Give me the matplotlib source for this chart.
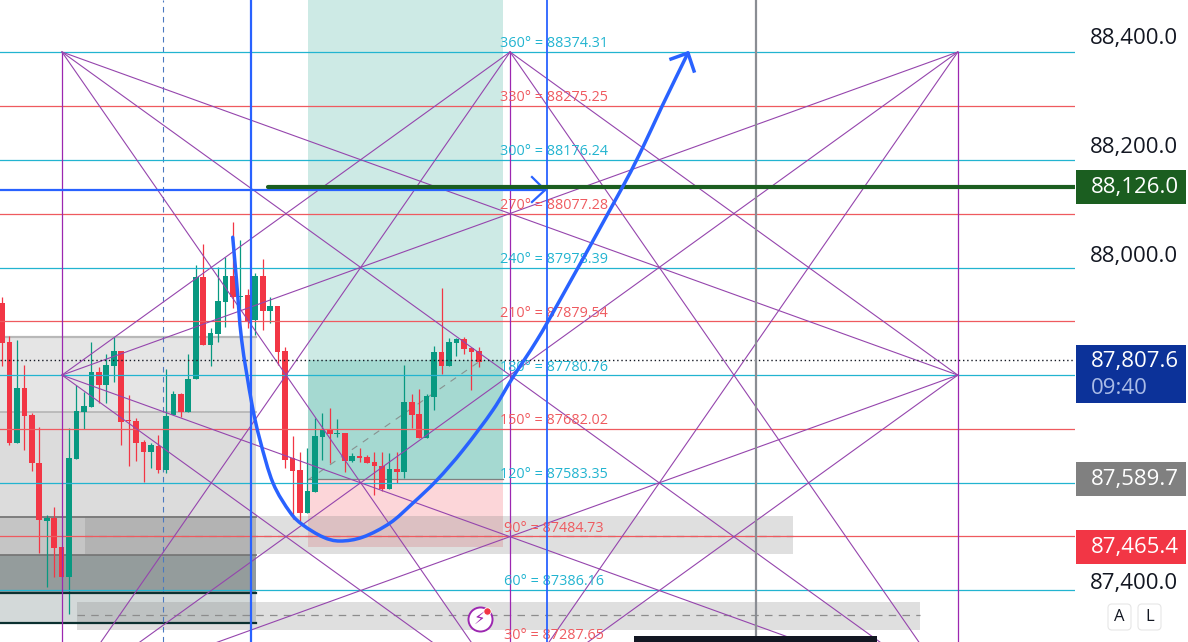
import matplotlib
matplotlib.use("Agg")
import matplotlib.pyplot as plt
from matplotlib.patches import Rectangle, FancyBboxPatch, PathPatch
from matplotlib.path import Path
from matplotlib.transforms import IdentityTransform, ScaledTranslation

plt.rcParams["font.family"] = ["Open Sans", "DejaVu Sans"]

# bar index, one candle per entry
opens = [87913, 87842, 87656, 87757, 87707, 87619, 87513, 87518, 87465, 87410, 87627, 87713, 87722,
         87786, 87763, 87798, 87825, 87698, 87696, 87658, 87639, 87650, 87606, 87707, 87746, 87713,
         87774, 87961, 87836, 87856, 87915, 87963, 87924, 87928, 87882, 87963, 87898, 87908, 87825,
         87628, 87606, 87527, 87566, 87667, 87680, 87673, 87674, 87623, 87632, 87630, 87621, 87614,
         87571, 87608, 87603, 87731, 87709, 87665, 87741, 87823, 87798, 87840, 87847, 87831, 87825]
highs = [87924, 87853, 87845, 87799, 87711, 87685, 87524, 87538, 87465, 87684, 87763, 87750, 87842,
         87796, 87820, 87851, 87825, 87744, 87702, 87662, 87656, 87671, 87792, 87752, 87748, 87820,
         87983, 88022, 87867, 87979, 87998, 88062, 88029, 87939, 87968, 87994, 87924, 87908, 87832,
         87669, 87639, 87647, 87702, 87711, 87720, 87700, 87674, 87638, 87647, 87634, 87639, 87639,
         87638, 87639, 87799, 87746, 87755, 87746, 87834, 87941, 87849, 87849, 87851, 87832, 87832]
lows = [87798, 87652, 87656, 87643, 87605, 87454, 87391, 87410, 87410, 87342, 87627, 87682, 87722,
        87730, 87730, 87768, 87652, 87614, 87623, 87584, 87610, 87601, 87601, 87707, 87704, 87713,
        87774, 87836, 87798, 87842, 87869, 87904, 87900, 87867, 87854, 87864, 87876, 87799, 87610,
        87516, 87511, 87527, 87566, 87625, 87619, 87667, 87603, 87621, 87621, 87619, 87560, 87568,
        87571, 87583, 87592, 87684, 87665, 87665, 87717, 87783, 87798, 87816, 87820, 87753, 87796]
closes = [87840, 87656, 87757, 87706, 87619, 87515, 87518, 87463, 87410, 87628, 87715, 87724, 87786,
          87763, 87799, 87825, 87695, 87696, 87656, 87639, 87652, 87606, 87706, 87746, 87713, 87774,
          87961, 87836, 87858, 87917, 87963, 87924, 87926, 87880, 87963, 87898, 87908, 87823, 87625,
          87605, 87527, 87568, 87669, 87680, 87673, 87674, 87623, 87632, 87628, 87619, 87614, 87571,
          87608, 87603, 87731, 87707, 87665, 87742, 87823, 87798, 87842, 87847, 87829, 87823, 87805]

gann_angles = [360, 330, 300, 270, 240, 210, 180, 150, 120, 90, 60, 30]
gann_prices = [88374.31, 88275.25, 88176.24, 88077.28, 87978.39, 87879.54, 87780.76, 87682.02,
               87583.35, 87484.73, 87386.16, 87287.65]
gann_x = [8.05, 68.2, 128.3]
gann_y = [88374.31, 87780.76, 87187.2]

curve_x = [30.97, 31.48, 32.17, 33.52, 34.63, 36.38, 38.66, 40.40, 43.09, 45.37, 48.46, 52.08, 55.17,
           58.39, 61.88, 65.9, 68.59, 71.81, 74.9, 83.22, 86.04, 88.55, 92.08]
curve_y = [88034, 87955, 87845, 87729.5, 87661.5, 87582.5, 87529, 87505.4, 87483.3, 87476, 87483.3,
           87509, 87545.8, 87588, 87643, 87716.6, 87777, 87845, 87918.7, 88124.4, 88199.8, 88273.2, 88372.5]
curve_head_x = [89.8, 92.08, 92.89]
curve_head_y = [88361.4, 88372.5, 88339.4]
arrow_head_x = [71.14, 72.9, 71.14]
arrow_head_y = [88144.6, 88120.8, 88098.7]

price_ticks = [88400, 88200, 88000, 87400]
price_tick_labels = ["88,400.0", "88,200.0", "88,000.0", "87,400.0"]
last_price = 87807.6
target_price = 88126.0
grey_price = 87589.7
red_price = 87465.4
blue_line = 88120.8

GREEN = "#089981"
RED = "#f23645"
BLUE = "#2962ff"
PURPLE = "#9c27b0"
TEAL = "#22b4d0"
LEVEL_RED = "#ef5a5f"

fig = plt.figure(figsize=(11.88, 6.42), dpi=100)
ax = fig.add_axes([0, 0, 1075 / 1188, 1])
ax.set_xlim(-0.268, 144.03)
ax.set_ylim(87290.5, 88469.8)
ax.axis("off")

# long position box
ax.add_patch(Rectangle((41.07, 87588), 26.18, 881.8, color=GREEN, alpha=0.2, lw=0, zorder=1))
ax.add_patch(Rectangle((41.07, 87588), 26.18, 219.6, color=GREEN, alpha=0.2, lw=0, zorder=1))
ax.add_patch(Rectangle((41.07, 87465), 26.18, 123, color=RED, alpha=0.2, lw=0, zorder=1))
ax.plot([41.07, 67.25], [87590, 87590], color="#808080", lw=0.9, zorder=2)
ax.plot([41.07, 64], [87588, 87805], color="#808080", lw=0.8, ls=(0, (6, 6)), alpha=0.8, zorder=2)

# grey zones on the left
ax.add_patch(Rectangle((-1, 87325), 35.1, 526, color="#000000", alpha=0.1, lw=0, zorder=1))
ax.add_patch(Rectangle((-1, 87382), 35.1, 331, color="#000000", alpha=0.04, lw=0, zorder=1))
ax.add_patch(Rectangle((-1, 87382), 35.1, 138, color="#000000", alpha=0.1, lw=0, zorder=1))
ax.add_patch(Rectangle((-1, 87382), 35.1, 68, color="#103030", alpha=0.27, lw=0, zorder=1))
ax.add_patch(Rectangle((-1, 87325), 35.1, 57, color="#005050", alpha=0.08, lw=0, zorder=1))
ax.plot([-1, 34.1], [87851, 87851], color="#b8b8b8", lw=1.6, zorder=2)
ax.plot([-1, 34.1], [87713, 87713], color="#b4b4b4", lw=1.2, zorder=2)
ax.plot([-1, 34.1], [87520, 87520], color="#777777", lw=1.3, zorder=2)
ax.plot([-1, 34.1], [87450, 87450], color="#777777", lw=1.3, zorder=2)
ax.plot([-1, 34.1], [87381, 87381], color="#0b3030", lw=1.6, zorder=5)
ax.plot([-1, 34.1], [87325, 87325], color="#0b3030", lw=1.6, zorder=2)

# grey zones reaching to the right
ax.add_patch(Rectangle((11.1, 87452), 95.1, 70, color="#808080", alpha=0.25, lw=0, zorder=1))
ax.add_patch(Rectangle((10.07, 87313), 113.1, 51, color="#808080", alpha=0.25, lw=0, zorder=1))
ax.plot([11.1, 106.2], [87485, 87485], color="#8c8c8c", lw=0.9, ls=(0, (6, 5)), zorder=2)
ax.plot([10.07, 123.2], [87340, 87340], color="#8c8c8c", lw=0.9, ls=(0, (6, 5)), zorder=2)

# candles
for i in range(len(opens)):
    col = GREEN if closes[i] >= opens[i] else RED
    ax.vlines(i, lows[i], highs[i], color=col, lw=0.9, zorder=3)
    ax.bar(i, abs(closes[i] - opens[i]), bottom=min(opens[i], closes[i]), width=0.76, color=col, lw=0, zorder=3)

# gann levels
for ang, price in zip(gann_angles, gann_prices):
    col = TEAL if ang % 60 == 0 else LEVEL_RED
    ax.axhline(price, color=col, lw=0.9, zorder=4)
    ax.annotate(f"{ang}° = {price:.2f}", (74.1, price), xytext=(0, 5.8), textcoords="offset points",
                ha="center", va="center", fontsize=10.4, color=col, annotation_clip=False, clip_on=True, zorder=6)

# gann square
gx0, gx1, gx2 = gann_x
gy0, gy1, gy2 = gann_y
for x in gann_x:
    ax.plot([x, x], [gy0, gy2], color=PURPLE, lw=0.9, zorder=5)
fan = [
    (gx0, gy0, gx2, gy2), (gx0, gy0, gx2, gy1), (gx0, gy0, gx1, gy2),
    (gx2, gy0, gx0, gy2), (gx2, gy0, gx0, gy1), (gx2, gy0, gx1, gy2),
    (gx0, gy2, gx2, gy1), (gx0, gy2, gx1, gy0),
    (gx2, gy2, gx0, gy1), (gx2, gy2, gx1, gy0),
    (gx0, gy1, gx1, gy0), (gx2, gy1, gx1, gy0),
    (gx0, gy1, gx1, gy2), (gx2, gy1, gx1, gy2),
]
for a, b, c, d in fan:
    ax.plot([a, c], [b, d], color="#9545ad", lw=0.8, zorder=5)

ax.axhline(last_price, color="#131722", lw=1, ls=(0, (1, 2)), zorder=5)

# verticals
ax.axvline(33.4, color=BLUE, lw=1.6, zorder=6)
ax.axvline(73.15, color=BLUE, lw=1.3, zorder=6)
ax.axvline(101.2, color="#8a8d93", lw=1.6, zorder=6)
ax.axvline(21.55, color="#4a78c0", lw=0.8, ls=(0, (5, 4)), zorder=2)

# horizontal arrow and target line
ax.plot([-1, 72.9], [blue_line, blue_line], color=BLUE, lw=1.6, zorder=6)
ax.plot(arrow_head_x, arrow_head_y, color=BLUE, lw=1.6, zorder=6)
ax.plot([35.7, 146], [target_price, target_price], color="#1b5e20", lw=3, solid_capstyle="round", zorder=7)

# hand drawn curve, rounded between the points
verts = [(curve_x[0], curve_y[0])]
codes = [Path.MOVETO]
n = len(curve_x)
for i in range(n - 1):
    a, d = max(i - 1, 0), min(i + 2, n - 1)
    verts.append((curve_x[i] + (curve_x[i + 1] - curve_x[a]) / 6, curve_y[i] + (curve_y[i + 1] - curve_y[a]) / 6))
    verts.append((curve_x[i + 1] - (curve_x[d] - curve_x[i]) / 6, curve_y[i + 1] - (curve_y[d] - curve_y[i]) / 6))
    verts.append((curve_x[i + 1], curve_y[i + 1]))
    codes += [Path.CURVE4, Path.CURVE4, Path.CURVE4]
ax.add_patch(PathPatch(Path(verts, codes), fill=False, ec=BLUE, lw=2.5, capstyle="round", zorder=8))
ax.plot(curve_head_x, curve_head_y, color=BLUE, lw=2.5, solid_joinstyle="round", zorder=8)

# widgets at the bottom
ax.add_patch(Rectangle((84.8, 87200), 32.7, 101.5, color="#131722", lw=0, zorder=9))
ax.scatter([64.1], [87332], s=300, facecolor="white", edgecolor=PURPLE, lw=1.4, zorder=9)
ax.text(64.1, 87332, "\u26a1", family="DejaVu Sans", fontsize=12, color=PURPLE, ha="center", va="center", zorder=10)
ax.scatter([65.1], [87347], s=28, color=RED, edgecolor="white", lw=0.6, zorder=10)

# price scale
ax2 = fig.add_axes([1075 / 1188, 0, 113 / 1188, 1])
ax2.set_xlim(0, 113)
ax2.set_ylim(ax.get_ylim())
ax2.set_xticks([])
ax2.set_yticks(price_ticks, price_tick_labels)
ax2.tick_params(axis="y", length=0, pad=-74.1, labelsize=16, labelcolor="#131722")
for lab in ax2.get_yticklabels():
    lab.set_transform(lab.get_transform() + ScaledTranslation(0, 1.5 / 100, fig.dpi_scale_trans))
for s in ax2.spines.values():
    s.set_visible(False)
ax2.patch.set_alpha(0)


def tag(price, text, color, height=34):
    span = height * 1.837
    ax2.add_patch(Rectangle((1, price - span / 2), 110, span, color=color, lw=0))
    ax2.text(103.5, price - 1.5, text, color="white", fontsize=16, ha="right", va="center")


tag(target_price, "88,126.0", "#1b5e20")
tag(grey_price, "87,589.7", "#808080")
tag(red_price, "87,465.4", RED)
ax2.add_patch(Rectangle((1, 87729), 110, 107, color="#0c3299", lw=0))
ax2.text(103.5, last_price - 2, "87,807.6", color="white", fontsize=16, ha="right", va="center")
ax2.text(16, 87757, "09:40", color="#a9bbe6", fontsize=16, ha="left", va="center")

# auto / log buttons
for x, label in [(1108, "A"), (1138, "L")]:
    fig.add_artist(FancyBboxPatch((x, 12), 23, 26, boxstyle="round,pad=0,rounding_size=4",
                                  fc="white", ec="#e6e6e6", lw=0.8, transform=IdentityTransform()))
    fig.text((x + 11.5) / 1188, 25 / 642, label, fontsize=12, color="#131722", ha="center", va="center")

fig.savefig("out.png", dpi=100)
